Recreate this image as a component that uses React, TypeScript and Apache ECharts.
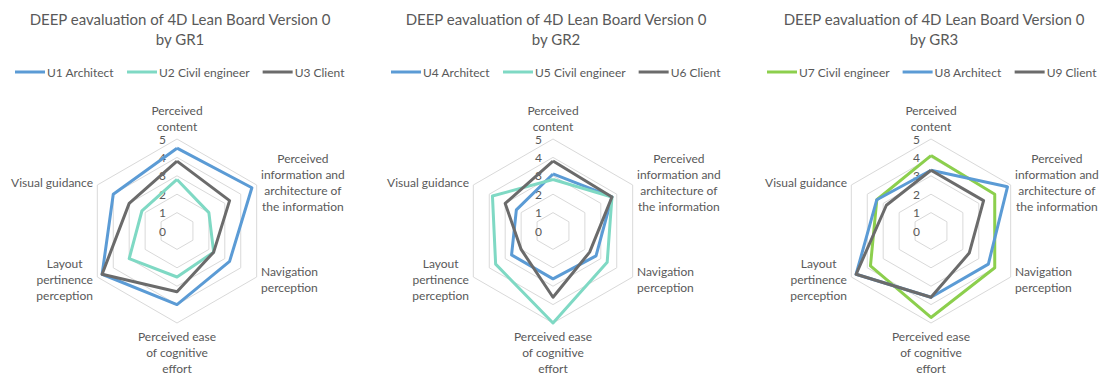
import React, { useEffect, useRef } from 'react';
import * as echarts from 'echarts';

// Indicators in ECharts order (top first, then counter-clockwise)
const categories = [
  'Perceived\ncontent',
  'Visual guidance',
  'Layout\npertinence\nperception',
  'Perceived ease\nof cognitive\neffort',
  'Navigation\nperception',
  'Perceived\ninformation and\narchitecture of\nthe information',
];
const scaleMax = 5;

const titles = [
  'DEEP eavaluation of 4D Lean Board Version 0\nby GR1',
  'DEEP eavaluation of 4D Lean Board Version 0\nby GR2',
  'DEEP eavaluation of 4D Lean Board Version 0\nby GR3',
];

const gr1Names = ['U1 Architect', 'U2 Civil engineer', 'U3 Client'];
const gr2Names = ['U4 Architect', 'U5 Civil engineer', 'U6 Client'];
const gr3Names = ['U7 Civil engineer', 'U8 Architect', 'U9 Client'];

const u1 = [4.5, 4.0, 4.7, 4.0, 3.3, 4.7];
const u2 = [2.8, 2.2, 3.0, 2.5, 2.3, 2.0];
const u3 = [3.8, 3.0, 4.7, 3.3, 2.3, 3.3];
const u4 = [3.1, 2.3, 2.6, 2.6, 2.7, 3.7];
const u5 = [2.8, 3.8, 3.6, 5.0, 3.4, 3.7];
const u6 = [3.8, 3.0, 2.0, 3.6, 2.3, 3.7];
const u7 = [4.1, 3.4, 3.8, 4.7, 4.0, 4.0];
const u8 = [3.3, 3.4, 4.7, 3.6, 3.6, 4.8];
const u9 = [3.3, 2.8, 4.7, 3.6, 2.4, 3.3];

const BLUE = '#5B9BD5';
const TEAL = '#7FD9C4';
const GRAY = '#6B6B6B';
const GREEN = '#8CCF4D';

const FONT = 'Lato';
const TXT = '#595959';

const groups = [
  { names: gr1Names, values: [u1, u2, u3], colors: [BLUE, TEAL, GRAY] },
  { names: gr2Names, values: [u4, u5, u6], colors: [BLUE, TEAL, GRAY] },
  { names: gr3Names, values: [u7, u8, u9], colors: [GREEN, BLUE, GRAY] },
];

const centersX = [177, 553, 931];
const legendLeft = [15, 391, 767];

export default function App() {
  const ref = useRef<HTMLDivElement>(null);
  useEffect(() => {
    if (!ref.current) return;
    const chart = echarts.init(ref.current, null, { renderer: 'svg' });
    const option: any = {
      animation: false,
      backgroundColor: '#fff',
      textStyle: { fontFamily: FONT },
      title: titles.map((t, i) => ({
        text: t,
        left: centersX[i] + 3,
        top: 9,
        padding: 0,
        textAlign: 'center',
        textStyle: { fontFamily: FONT, fontSize: 15, fontWeight: 'normal', color: TXT, lineHeight: 20 },
      })),
      legend: groups.map((g, i) => ({
        data: g.names,
        left: legendLeft[i],
        top: 66,
        width: 400,
        padding: 0,
        icon: 'rect',
        itemWidth: 30,
        itemHeight: 3,
        itemGap: 13,
        textStyle: { fontFamily: FONT, fontSize: 12, color: TXT, padding: [0, 0, 0, -3] },
        selectedMode: false,
      })),
      radar: groups.map((g, i) => ({
        center: [centersX[i], 231],
        radius: 92,
        startAngle: 90,
        shape: 'polygon',
        splitNumber: 5,
        indicator: categories.map((c, k) => ({
          name: c,
          min: 0,
          max: scaleMax,
          ...(k === 0 ? {} : { axisLabel: { show: false } }),
        })),
        axisName: {
          color: TXT,
          fontFamily: FONT,
          fontSize: 12,
          formatter: (name: string) => name.split('\n').map((l) => `{c|${l}}`).join('\n'),
          rich: { c: { align: 'center', color: TXT, fontFamily: FONT, fontSize: 12, lineHeight: 16 } },
        },
        nameGap: 5,
        axisLine: { show: false },
        axisTick: { show: false },
        splitArea: { show: false },
        splitLine: { lineStyle: { color: '#D9D9D9', width: 1 } },
        axisLabel: { show: true, color: TXT, fontFamily: FONT, fontSize: 12, lineHeight: 11, margin: 11 },
      })),
      series: groups.map((g, i) => ({
        type: 'radar',
        radarIndex: i,
        symbol: 'none',
        data: g.names.map((n, k) => ({
          name: n,
          value: g.values[k],
          lineStyle: { color: g.colors[k], width: 3 },
          itemStyle: { color: g.colors[k] },
        })),
      })),
    };
    chart.setOption(option);
    return () => chart.dispose();
  }, []);
  return (
    <div
      ref={ref}
      style={{ position: 'fixed', left: 0, top: 0, width: 1104, height: 374 }}
    />
  );
}
